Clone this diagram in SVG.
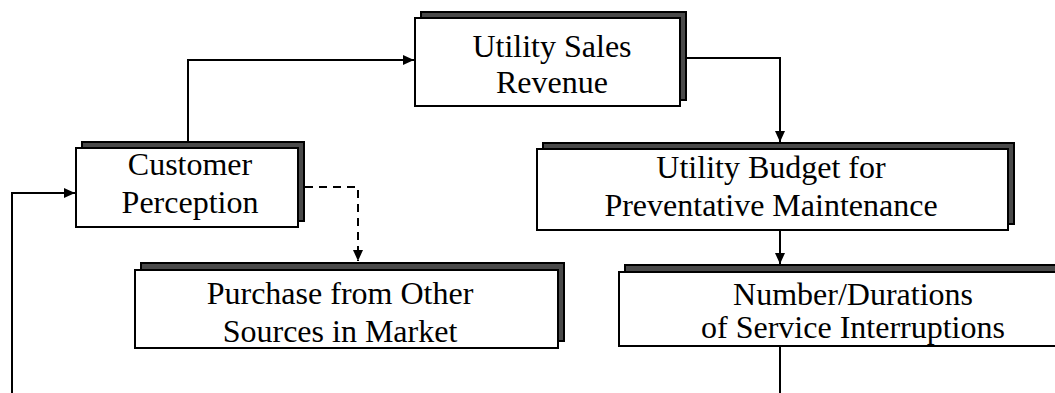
<svg xmlns="http://www.w3.org/2000/svg" width="1055" height="393" viewBox="0 0 1055 393">
  <style>
    .back { fill: #4a4a4a; stroke: #000; stroke-width: 2; }
    .front { fill: #fff; stroke: #000; stroke-width: 2; }
    .label { font-family: "Liberation Serif", "Times New Roman", serif; font-size: 32px; fill: #000; text-anchor: middle; }
    .link { fill: none; stroke: #000; stroke-width: 2; }
    .dashed { stroke-dasharray: 8 6; }
  </style>
  <defs>
    <marker id="arrow" markerUnits="userSpaceOnUse" markerWidth="12" markerHeight="10" refX="11" refY="5" orient="auto">
      <path d="M0,0 L11,5 L0,10 Z" fill="#000"/>
    </marker>
  </defs>
  <rect width="1055" height="393" fill="#fff"/>

  <!-- connectors -->
  <g id="connectors">
    <path class="link" d="M188,142 V60 H414" marker-end="url(#arrow)"/>
    <path class="link" d="M685,58 H780 V142" marker-end="url(#arrow)"/>
    <path class="link" d="M780,230 V264" marker-end="url(#arrow)"/>
    <path class="link dashed" d="M305,187 H358 V261" marker-end="url(#arrow)"/>
    <path class="link" d="M780,346 V395 H12 V193 H75" marker-end="url(#arrow)"/>
  </g>

  <!-- Utility Sales Revenue -->
  <g id="sales-revenue">
    <rect class="back" x="421" y="12" width="265" height="88"/>
    <rect class="front" x="415" y="18" width="265" height="88"/>
    <text class="label" x="552" y="57">Utility Sales</text>
    <text class="label" x="552" y="93">Revenue</text>
  </g>

  <!-- Customer Perception -->
  <g id="customer-perception">
    <rect class="back" x="82" y="142" width="222" height="79"/>
    <rect class="front" x="76" y="148" width="222" height="79"/>
    <text class="label" x="190" y="175">Customer</text>
    <text class="label" x="190" y="213">Perception</text>
  </g>

  <!-- Utility Budget for Preventative Maintenance -->
  <g id="budget">
    <rect class="back" x="543" y="143" width="471" height="81"/>
    <rect class="front" x="537" y="149" width="471" height="81"/>
    <text class="label" x="771" y="178">Utility Budget for</text>
    <text class="label" x="771" y="216">Preventative Maintenance</text>
  </g>

  <!-- Purchase from Other Sources in Market -->
  <g id="purchase">
    <rect class="back" x="141" y="263" width="423" height="78"/>
    <rect class="front" x="135" y="270" width="423" height="78"/>
    <text class="label" x="340" y="304">Purchase from Other</text>
    <text class="label" x="340" y="342">Sources in Market</text>
  </g>

  <!-- Number/Durations of Service Interruptions -->
  <g id="interruptions">
    <rect class="back" x="625" y="265" width="450" height="75"/>
    <rect class="front" x="619" y="272" width="450" height="74"/>
    <text class="label" x="853" y="305">Number/Durations</text>
    <text class="label" x="853" y="338">of Service Interruptions</text>
  </g>
</svg>
